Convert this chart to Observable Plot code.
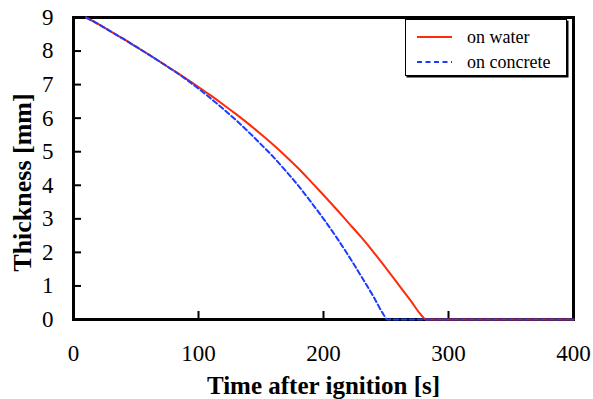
<!DOCTYPE html>
<html>
<head>
<meta charset="utf-8">
<script src="https://cdn.jsdelivr.net/npm/d3@7"></script>
<script src="https://cdn.jsdelivr.net/npm/@observablehq/plot@0.6"></script>
<style>
  html, body { margin: 0; padding: 0; background: #fff; }
  #wrap { position: relative; width: 593px; height: 399px; }
  #wrap svg, #wrap svg text { font-family: "Liberation Serif", "DejaVu Serif", "Times New Roman", serif !important; }
  #legend {
    position: absolute; left: 405px; top: 19px; width: 160px; height: 55px;
    border: 1.5px solid #000; background: #fff;
    box-shadow: 1.5px 1.5px 0 #000;
    font-family: "Liberation Serif", "DejaVu Serif", "Times New Roman", serif; font-size: 18px; color: #000;
  }
  .row { position: absolute; left: 0; height: 22px; display: flex; align-items: center; }
  .row svg { margin-left: 11px; margin-right: 15px; }
</style>
</head>
<body>
<div id="wrap"></div>
<script>
if (document.fonts && document.fonts.load) {
  document.fonts.load("23px 'Liberation Serif'");
  document.fonts.load("bold 25px 'Liberation Serif'");
}

// Data
const seriesNames = ["on water", "on concrete"];
const seriesColors = ["#ff2a0a", "#1a3cff"];

const timeWater = [10,20,30,40,50,60,70,80,90,100,110,120,130,140,150,160,170,180,190,200,210,220,230,240,250,260,270,278,282,300,350,400];
const thicknessWater = [9.0,8.80,8.58,8.36,8.13,7.90,7.66,7.42,7.18,6.93,6.67,6.40,6.12,5.83,5.52,5.20,4.86,4.50,4.11,3.71,3.30,2.88,2.46,2.01,1.53,1.04,0.55,0.14,0,0,0,0];

const timeConcrete = [10,20,30,40,50,60,70,80,90,100,110,120,130,140,150,160,170,180,190,200,210,220,230,240,248,251,300,350,400];
const thicknessConcrete = [9.0,8.80,8.58,8.36,8.13,7.90,7.66,7.42,7.16,6.88,6.58,6.27,5.94,5.59,5.22,4.84,4.42,3.98,3.50,3.00,2.47,1.90,1.30,0.68,0.15,0,0,0,0];

const xTicks = [0,100,200,300,400];
const yTicks = [0,1,2,3,4,5,6,7,8,9];
const xInnerTicks = [100,200,300];
const yInnerTicks = [1,2,3,4,5,6,7,8];

const waterData = timeWater.map((t, i) => ({t, v: thicknessWater[i]}));
const concreteData = timeConcrete.map((t, i) => ({t, v: thicknessConcrete[i]}));

const chart = Plot.plot({
  width: 593,
  height: 399,
  marginLeft: 73,
  marginRight: 20,
  marginTop: 17,
  marginBottom: 80,
  style: { background: "#fff", color: "#000", overflow: "visible" },
  x: { domain: [0, 400] },
  y: { domain: [0, 9] },
  marks: [
    Plot.axisX({ ticks: xTicks, tickSize: 0, tickPadding: 25, fontSize: 23, tickFormat: d => String(d), label: null }),
    Plot.axisY({ ticks: yTicks, tickSize: 0, tickPadding: 20, fontSize: 23, tickFormat: d => String(d), label: null }),
    Plot.frame({ stroke: "#000", strokeWidth: 3 }),
    Plot.tickX(xInnerTicks, { x: d => d, insetTop: 294, stroke: "#000", strokeWidth: 2 }),
    Plot.tickY(yInnerTicks, { y: d => d, insetRight: 492, stroke: "#000", strokeWidth: 2 }),
    Plot.line(waterData, { x: "t", y: "v", stroke: seriesColors[0], strokeWidth: 2, curve: "monotone-x" }),
    Plot.line(concreteData, { x: "t", y: "v", stroke: seriesColors[1], strokeWidth: 2, strokeDasharray: "5,3", curve: "monotone-x" }),
    Plot.text(["Time after ignition [s]"], { frameAnchor: "bottom", textAnchor: "middle", lineAnchor: "middle", dy: 66, fontSize: 25, fontWeight: "bold", fill: "#000" }),
    Plot.text(["Thickness [mm]"], { frameAnchor: "left", textAnchor: "middle", lineAnchor: "middle", dx: -51, dy: 14, rotate: -90, fontSize: 26, fontWeight: "bold", fill: "#000", style: "letter-spacing:1.2px" })
  ]
});

const wrap = document.getElementById("wrap");
wrap.appendChild(chart);

const legend = document.createElement("div");
legend.id = "legend";
seriesNames.forEach((name, i) => {
  const row = document.createElement("div");
  row.className = "row";
  row.style.top = (6 + i * 25) + "px";
  const dash = i === 1 ? 'stroke-dasharray="5,3.5"' : "";
  row.innerHTML = `<svg width="35" height="6"><line x1="0" y1="3" x2="35" y2="3" stroke="${seriesColors[i]}" stroke-width="2" ${dash}/></svg><span>${name}</span>`;
  legend.appendChild(row);
});
wrap.appendChild(legend);
</script>
</body>
</html>
